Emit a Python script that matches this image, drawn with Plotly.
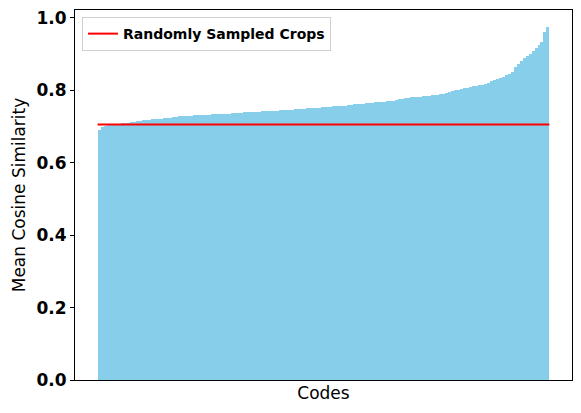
import plotly.graph_objects as go

# mean cosine similarity per code, sorted ascending
similarity = [
    0.691, 0.698, 0.702, 0.703, 0.704, 0.705, 0.706, 0.707, 0.709, 0.710, 0.711,
    0.713, 0.714, 0.715, 0.716, 0.717, 0.718, 0.719, 0.720, 0.721, 0.722, 0.722,
    0.723, 0.724, 0.725, 0.726, 0.727, 0.728,
    0.729, 0.729, 0.730, 0.730, 0.731, 0.731, 0.732, 0.732, 0.733, 0.733, 0.734,
    0.734, 0.735, 0.735, 0.735, 0.736, 0.736, 0.737, 0.737, 0.738, 0.738, 0.739,
    0.739, 0.740, 0.740, 0.741,
    0.741, 0.742, 0.742, 0.743, 0.743, 0.744, 0.744, 0.745, 0.745, 0.746, 0.746,
    0.747, 0.748, 0.748, 0.749, 0.749, 0.750, 0.750, 0.751, 0.752, 0.752, 0.753,
    0.754, 0.754, 0.755, 0.756, 0.756, 0.757, 0.758, 0.758, 0.759, 0.760, 0.761,
    0.762,
    0.762, 0.763, 0.764, 0.765, 0.766, 0.767,
    0.768, 0.769, 0.769, 0.770, 0.771, 0.772, 0.773,
    0.775, 0.777, 0.779, 0.780, 0.781,
    0.782, 0.782, 0.783, 0.784, 0.784, 0.785, 0.786, 0.787, 0.788, 0.789,
    0.790, 0.792, 0.795, 0.798, 0.800,
    0.802, 0.804, 0.806, 0.807, 0.809, 0.811, 0.812,
    0.814, 0.816, 0.818, 0.821, 0.825, 0.829,
    0.832, 0.835, 0.838, 0.842, 0.846,
    0.850, 0.864, 0.872, 0.882, 0.889, 0.895, 0.901, 0.909, 0.916, 0.925,
    0.935, 0.962, 0.976,
]
random_crops = 0.706
y_ticks = [0.0, 0.2, 0.4, 0.6, 0.8, 1.0]

n = len(similarity)
codes = list(range(n))
pad = 0.05 * n

fig = go.Figure()
fig.add_trace(go.Bar(
    x=codes, y=similarity, width=1.0,
    marker=dict(color='#87CEEB', line=dict(width=0)),
    showlegend=False, hoverinfo='y'
))
fig.add_trace(go.Scatter(
    x=[-0.5, n - 0.5], y=[random_crops, random_crops],
    mode='lines', line=dict(color='red', width=2),
    name='Randomly Sampled Crops'
))

# the page body adds an 8px offset, so margins are shifted to compensate
fig.update_layout(
    width=581, height=413,
    margin=dict(l=67, r=17, t=2, b=41),
    plot_bgcolor='white', paper_bgcolor='white',
    bargap=0,
    font=dict(family='DejaVu Sans', color='black'),
    legend=dict(
        x=0.014, y=0.981, xanchor='left', yanchor='top',
        bgcolor='white', bordercolor='#d0d0d0', borderwidth=1,
        font=dict(size=14, weight='bold'),
        itemwidth=30, tracegroupgap=0,
    ),
    xaxis=dict(
        range=[-0.5 - pad, n - 0.5 + pad], automargin=False,
        showticklabels=False, ticks='', showgrid=False, zeroline=False,
        showline=True, linecolor='black', linewidth=1, mirror=True,
        title=dict(text='Codes', font=dict(size=17), standoff=7),
    ),
    yaxis=dict(
        range=[0, 1.022], tickvals=y_ticks, tickformat='.1f', automargin=False,
        ticks='outside', ticklen=4, tickcolor='black',
        tickfont=dict(size=17, weight='bold'), ticklabeloverflow='allow',
        showgrid=False, zeroline=False,
        showline=True, linecolor='black', linewidth=1, mirror=True,
        title=dict(text='Mean Cosine Similarity', font=dict(size=17), standoff=6),
    ),
)

fig.write_html("out.html")
